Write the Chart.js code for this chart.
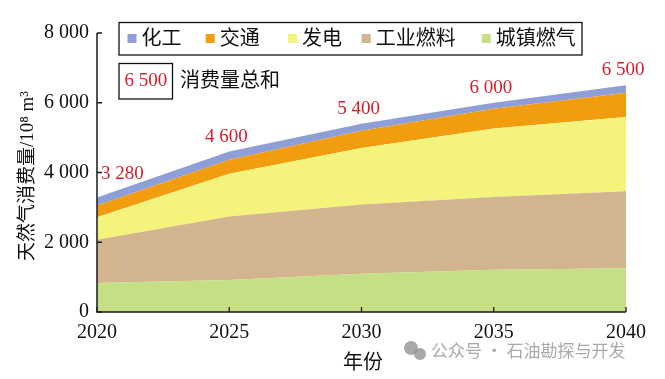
<!DOCTYPE html>
<html>
<head>
<meta charset="utf-8">
<script src="https://cdn.jsdelivr.net/npm/chart.js@4"></script>
<style>
html,body{margin:0;padding:0;background:#fff;}
#c{display:block;}
</style>
</head>
<body>
<canvas id="c" width="665" height="379"></canvas>
<script>
// ---- data ----
const years = ['2020', '2025', '2030', '2035', '2040'];
const cityGas   = [835, 920, 1095, 1210, 1255];    // 城镇燃气
const industry  = [1235, 1820, 1985, 2085, 2210];  // 工业燃料
const power     = [650, 1225, 1620, 1965, 2125];   // 发电
const transport = [335, 400, 500, 570, 700];       // 交通
const chemical  = [225, 235, 200, 170, 210];       // 化工
const totals    = [3280, 4600, 5400, 6000, 6500];  // 消费量总和
const yTicks    = [0, 2000, 4000, 6000, 8000];
const seriesNames = ['城镇燃气', '工业燃料', '发电', '交通', '化工'];
const legendOrder = ['化工', '交通', '发电', '工业燃料', '城镇燃气'];
const yTitle = '天然气消费量/10⁸ m³';
const xTitle = '年份';
const totalLegendValue = 6500;
const totalLegendText = '消费量总和';
const watermark = '公众号 · 石油勘探与开发';

const colors = {
  '城镇燃气': '#C4DF84',
  '工业燃料': '#D2B48F',
  '发电': '#F4F47C',
  '交通': '#F29C0F',
  '化工': '#8E9FD8'
};

const fmt = n => String(n).replace(/\B(?=(\d{3})+(?!\d))/g, ' ');
const SERIF = "'Liberation Serif', 'Noto Sans CJK SC', serif";
const CJK = "'Liberation Serif', 'Noto Sans CJK SC', sans-serif";

const seriesData = [cityGas, industry, power, transport, chemical];
const datasets = seriesNames.map((name, i) => ({
  label: name,
  data: seriesData[i],
  backgroundColor: colors[name],
  borderWidth: 0,
  pointRadius: 0,
  pointHoverRadius: 0,
  tension: 0,
  fill: i === 0 ? 'origin' : '-1'
}));

const decor = {
  id: 'decor',
  afterDatasetsDraw(chart) {
    const ctx = chart.ctx;
    const xs = chart.scales.x, ys = chart.scales.y;
    const ca = chart.chartArea;
    ctx.save();
    // axes
    ctx.strokeStyle = '#1a1a1a';
    ctx.lineWidth = 1.5;
    ctx.beginPath();
    ctx.moveTo(ca.left, ca.top);
    ctx.lineTo(ca.left, ca.bottom);
    ctx.lineTo(ca.right, ca.bottom);
    ctx.stroke();
    // inward ticks
    ctx.lineWidth = 1.3;
    ctx.beginPath();
    yTicks.forEach(v => {
      const y = ys.getPixelForValue(v);
      ctx.moveTo(ca.left, y); ctx.lineTo(ca.left + 5, y);
    });
    years.forEach((_, i) => {
      const x = xs.getPixelForValue(i);
      ctx.moveTo(x, ca.bottom); ctx.lineTo(x, ca.bottom - 5);
    });
    ctx.stroke();

    // total labels
    ctx.fillStyle = '#D4202C';
    ctx.font = '19px ' + SERIF;
    ctx.textBaseline = 'middle';
    totals.forEach((t, i) => {
      const x = xs.getPixelForValue(i);
      const y = ys.getPixelForValue(t);
      if (i === 0) {
        ctx.textAlign = 'left';
        ctx.fillText(fmt(t), x + 4, y - 24);
      } else {
        ctx.textAlign = 'center';
        ctx.fillText(fmt(t), x - 3, y - 15);
      }
    });

    // legend box
    ctx.strokeStyle = '#111';
    ctx.lineWidth = 1.3;
    ctx.strokeRect(119, 22.5, 463, 32.5);
    const markerX = [127.5, 205.7, 288, 361.7, 481.7];
    ctx.font = '20px ' + CJK;
    ctx.textAlign = 'left';
    ctx.textBaseline = 'middle';
    legendOrder.forEach((name, i) => {
      ctx.fillStyle = colors[name];
      ctx.fillRect(markerX[i], 34, 9, 9);
      ctx.fillStyle = '#111';
      ctx.fillText(name, markerX[i] + 14, 39.5);
    });

    // total legend
    ctx.strokeRect(119, 63.5, 53.5, 35.5);
    ctx.fillStyle = '#D4202C';
    ctx.font = '19px ' + SERIF;
    ctx.textAlign = 'center';
    ctx.fillText(fmt(totalLegendValue), 145.8, 81.5);
    ctx.fillStyle = '#111';
    ctx.font = '20px ' + CJK;
    ctx.textAlign = 'left';
    ctx.fillText(totalLegendText, 180, 81.5);

    // axis titles
    ctx.font = '20px ' + CJK;
    ctx.textAlign = 'center';
    ctx.fillText(xTitle, 363, 364);
    ctx.save();
    ctx.translate(28, 176);
    ctx.rotate(-Math.PI / 2);
    ctx.font = '19px ' + CJK;
    ctx.fillText(yTitle, 0, 0);
    ctx.restore();

    // watermark
    ctx.fillStyle = 'rgba(140,140,140,0.75)';
    ctx.beginPath(); ctx.arc(411, 348, 7, 0, Math.PI * 2); ctx.fill();
    ctx.beginPath(); ctx.arc(420, 354, 6, 0, Math.PI * 2); ctx.fill();
    ctx.font = "17px 'Noto Sans CJK SC', sans-serif";
    ctx.textAlign = 'left';
    ctx.fillText(watermark, 431, 351);
    ctx.restore();
  }
};

new Chart(document.getElementById('c'), {
  type: 'line',
  data: { labels: years, datasets },
  options: {
    responsive: false,
    animation: false,
    events: [],
    layout: { padding: { top: 33, right: 39, left: 0, bottom: 0 } },
    plugins: { legend: { display: false }, tooltip: { enabled: false } },
    scales: {
      x: {
        offset: false,
        grid: { display: false, drawTicks: false },
        border: { display: false },
        ticks: {
          color: '#111', maxRotation: 0, autoSkip: false, padding: 9,
          font: { family: SERIF, size: 20 }
        },
        afterFit(s) { s.height = 67; }
      },
      y: {
        stacked: true,
        min: 0, max: 8000,
        afterBuildTicks(s) { s.ticks = yTicks.map(v => ({ value: v })); },
        grid: { display: false, drawTicks: false },
        border: { display: false },
        ticks: {
          color: '#111', padding: 8,
          font: { family: SERIF, size: 20 },
          callback: v => fmt(v)
        },
        afterFit(s) { s.width = 97; }
      }
    }
  },
  plugins: [decor]
});
</script>
</body>
</html>
